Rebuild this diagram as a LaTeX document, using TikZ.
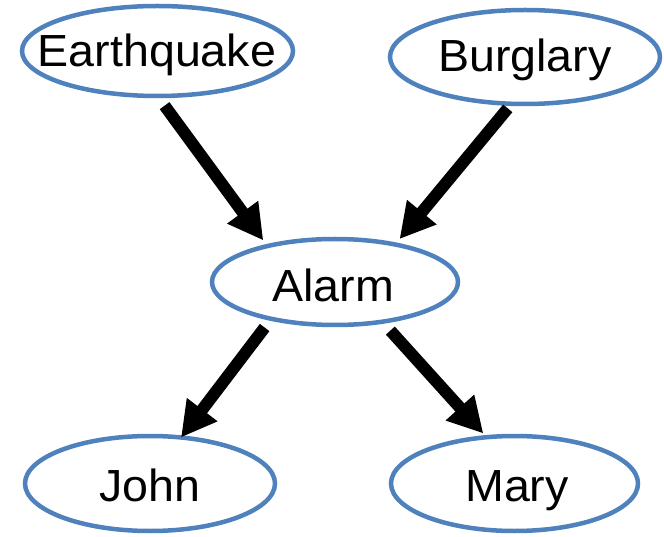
\documentclass[tikz,border=0pt]{standalone}
\usepackage{fontspec}
\setmainfont[FakeStretch=1.035]{Liberation Sans}
\usetikzlibrary{arrows.meta,shapes.geometric}
\definecolor{ellblue}{RGB}{79,129,189}
\tikzset{
  ell/.style={ellipse, draw=ellblue, line width=4.5pt, fill=white, inner sep=0pt, outer sep=0pt},
  lbl/.style={font=\fontsize{45}{45}\selectfont, inner sep=0pt, anchor=base, text=black},
  arr/.style={line width=12pt, -{Triangle[width=36pt,length=35pt]}, black}
}
\begin{document}
\begin{tikzpicture}[x=1pt,y=-1pt]
\useasboundingbox (0,0) rectangle (664,537);
\node[ell, minimum width=271pt, minimum height=90pt] (E) at (157.5,51) {};
\node[ell, minimum width=270pt, minimum height=94pt] (B) at (525,57) {};
\node[ell, minimum width=246pt, minimum height=86pt] (A) at (335,282) {};
\node[ell, minimum width=250pt, minimum height=95pt] (J) at (150,483.5) {};
\node[ell, minimum width=247pt, minimum height=95pt] (M) at (514.5,483.5) {};
\node[lbl] (Et) at (157,67) {Earthquake};
\node[lbl] (Bt) at (525,72) {Burglary};
\node[lbl] (At) at (333,302) {Alarm};
\node[lbl] (Jt) at (150,501.5) {John};
\node[lbl] (Mt) at (517,501.5) {Mary};
\draw[arr, shorten <=12pt, shorten >=7pt] (E.270) -- (A.152);
\draw[arr, shorten <=6pt, shorten >=7pt] (B.254) -- (A.32);
\draw[arr, shorten <=11pt] (A.210) -- (J.56);
\draw[arr, shorten <=12pt, shorten >=5pt] (A.320) -- (M.121);
\end{tikzpicture}
\end{document}
